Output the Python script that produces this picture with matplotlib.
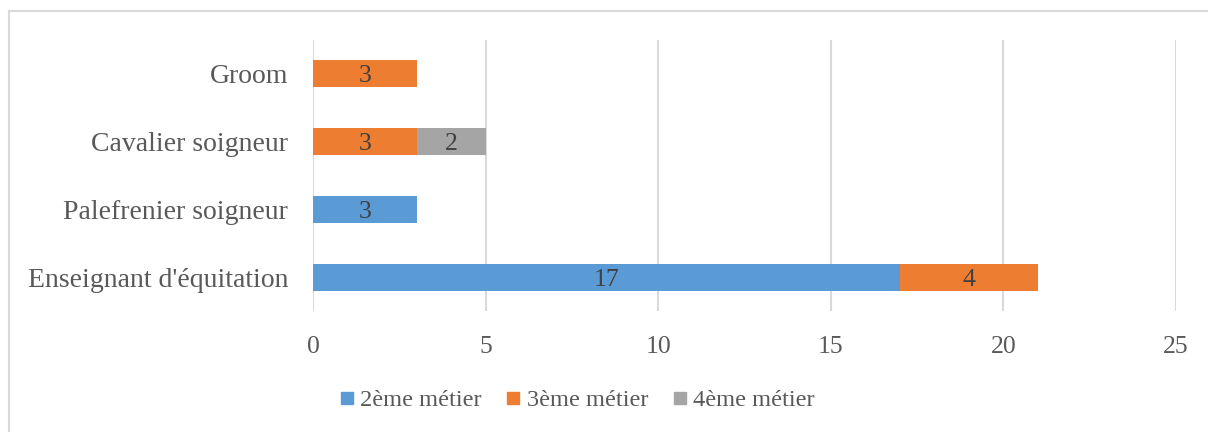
import matplotlib
matplotlib.use("Agg")
import matplotlib.pyplot as plt
from matplotlib.lines import Line2D
import numpy as np

categories = ["Enseignant d'équitation", "Palefrenier soigneur", "Cavalier soigneur", "Groom"]
series_names = ["2ème métier", "3ème métier", "4ème métier"]
metier2 = [17, 3, 0, 0]
metier3 = [4, 0, 3, 3]
metier4 = [0, 0, 2, 0]
colors = ["#5B9BD5", "#ED7D31", "#A5A5A5"]
xticks = [0, 5, 10, 15, 20, 25]

plt.rcParams["font.family"] = ["Liberation Serif", "DejaVu Serif"]

fig = plt.figure(figsize=(12.08, 4.32), dpi=100)
ax = fig.add_axes([313 / 1208, 1 - 311 / 432, (1176 - 313) / 1208, (311 - 40) / 432])

y = np.arange(len(categories))
left = np.zeros(len(categories))
for name, vals, col in zip(series_names, [metier2, metier3, metier4], colors):
    vals = np.array(vals, dtype=float)
    bars = ax.barh(y, vals, left=left, height=0.4, color=col, label=name, zorder=3)
    for b, v in zip(bars, vals):
        if v > 0:
            ax.text(b.get_x() + b.get_width() / 2, b.get_y() + b.get_height() / 2,
                    f"{int(v)}", ha="center", va="center_baseline", fontsize=18.5,
                    color="#404040", zorder=4)
    left += vals

ax.set_xlim(0, 25)
ax.set_ylim(-0.5, len(categories) - 0.5)
ax.set_xticks(xticks)
ax.set_yticks(y)
ax.set_yticklabels(categories)
ax.tick_params(axis="both", length=0, labelcolor="#595959")
ax.tick_params(axis="x", pad=18, labelsize=18.5)
ax.tick_params(axis="y", pad=18, labelsize=20)
ax.xaxis.grid(True, color="#D9D9D9", linewidth=1.5, zorder=0)
for s in ax.spines.values():
    s.set_visible(False)

handles = [Line2D([0], [0], marker="s", linestyle="none", markersize=8.5,
                  markerfacecolor=c, markeredgecolor=c) for c in colors]
fig.legend(handles, series_names, loc="center", bbox_to_anchor=(577 / 1208, 1 - 400 / 432),
           ncol=3, frameon=False, fontsize=17.6, labelcolor="#595959",
           handlelength=0.6, handletextpad=0.25, columnspacing=1.0)

# chart frame
fig.add_artist(Line2D([9 / 1208, 9 / 1208], [0, 1 - 11 / 432], color="#D9D9D9", linewidth=1.5,
                      transform=fig.transFigure))
fig.add_artist(Line2D([9 / 1208, 1], [1 - 11 / 432, 1 - 11 / 432], color="#D9D9D9", linewidth=1.5,
                      transform=fig.transFigure))

fig.savefig("out.png", dpi=100)
